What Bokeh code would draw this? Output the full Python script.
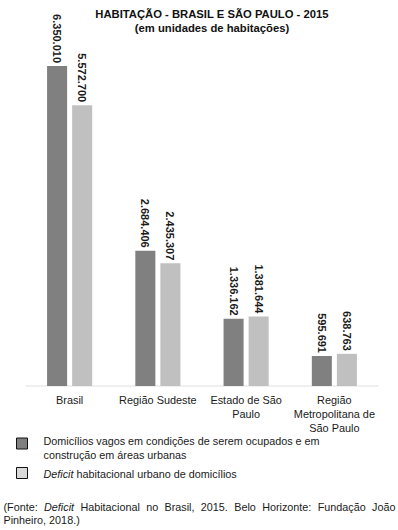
import math
from bokeh.plotting import figure
from bokeh.models import Range1d
from bokeh.core.properties import value
from bokeh.embed import file_html
from bokeh.resources import INLINE

categories = ["Brasil", "Região Sudeste", "Estado de São\nPaulo", "Região\nMetropolitana de\nSão Paulo"]
vagos = [6350010, 2684406, 1336162, 595691]
deficit = [5572700, 2435307, 1381644, 638763]
series_names = ["Domicílios vagos em condições de serem ocupados e em\nconstrução em áreas urbanas",
                "habitacional urbano de domicílios"]
title_lines = ["HABITAÇÃO - BRASIL E SÃO PAULO - 2015", "(em unidades de habitações)"]
source_words = ["(Fonte:", "Deficit", "Habitacional", "no", "Brasil,", "2015.", "Belo",
                "Horizonte:", "Fundação", "João"]
source_line2 = "Pinheiro, 2018.)"

FONT = "Liberation Sans"
DARK = "#808080"
LIGHT = "#c0c0c0"
TXT = "#1a1a1a"
FS = 10.8

# approximate Arial advance widths (1/1000 em) to justify the source line
AW = {" ": 278, "(": 333, ")": 333, ":": 278, ",": 278, ".": 278, "F": 611, "D": 722, "H": 722,
      "B": 667, "J": 500, "P": 667, "f": 278, "i": 222, "l": 222, "t": 278, "r": 333, "c": 500,
      "s": 500, "z": 500, "ç": 500, "o": 556, "n": 556, "e": 556, "a": 556, "b": 556, "u": 556,
      "d": 556, "ã": 556, "h": 556}
def text_w(s, fs):
    return sum(AW.get(ch, 556) for ch in s) * fs / 1000.0

W, H = 398, 530
k = 50.39e-6  # px per unit
base_y = 385.5  # baseline, px from top
cat_px = 88.25
p = figure(width=W, height=H, output_backend="svg", toolbar_location=None,
           x_axis_type=None, y_axis_type=None, min_border=0,
           x_range=Range1d(-25 / cat_px, 4 + (W - 378) / cat_px),
           y_range=Range1d(-(H - base_y) / k, base_y / k))
p.outline_line_color = None
p.grid.visible = False
p.background_fill_color = "white"
p.border_fill_color = "white"
p.extra_x_ranges = {"px": Range1d(0, W)}
p.extra_y_ranges = {"py": Range1d(H, 0)}

# baseline
p.segment(x0=[25], x1=[378], y0=[base_y], y1=[base_y], x_range_name="px", y_range_name="py",
          line_color="#e0e0e0", line_width=1)

idx = list(range(len(categories)))
off = 0.142
bw = 0.227
xd = [i + 0.5 - off for i in idx]
xl = [i + 0.5 + off for i in idx]
p.vbar(x=xd, top=vagos, bottom=0, width=bw, fill_color=DARK, line_color=None)
p.vbar(x=xl, top=deficit, bottom=0, width=bw, fill_color=LIGHT, line_color=None)

fmt = lambda v: f"{v:,}".replace(",", ".")
for xs, vals in ((xd, vagos), (xl, deficit)):
    p.text(x=xs, y=vals, text=[fmt(v) for v in vals], angle=-math.pi / 2,
           text_align="right", text_baseline="middle", y_offset=-3,
           text_font=value(FONT), text_font_style="bold", text_font_size="11px", text_color=TXT)

# category labels
p.text(x=[i + 0.5 for i in idx], y=[393] * 4, text=categories, y_range_name="py",
       text_align="center", text_baseline="top", text_font=value(FONT), text_font_size="10.9px",
       text_line_height=1.18, text_color=TXT)

# title
p.text(x=[211.5, 211.5], y=[13, 27], text=title_lines, x_range_name="px", y_range_name="py",
       text_align="center", text_baseline="middle", text_font=value(FONT),
       text_font_style="bold", text_font_size="11.25px", text_color="#111111")

# legend
p.rect(x=[21.5, 21.5], y=[443, 472.5], width=11, height=11, x_range_name="px", y_range_name="py",
       fill_color=[DARK, "#d9d9d9"], line_color="#111111", line_width=1)
p.text(x=[43], y=[447.5], text=[series_names[0]], x_range_name="px", y_range_name="py",
       text_align="left", text_baseline="middle", text_font=value(FONT), text_font_size=f"{FS}px",
       text_line_height=1.15, text_color=TXT)
p.text(x=[43], y=[473.5], text=["Deficit"], x_range_name="px", y_range_name="py",
       text_align="left", text_baseline="middle", text_font=value(FONT), text_font_size=f"{FS}px",
       text_font_style="italic", text_color=TXT)
p.text(x=[43 + text_w("Deficit ", FS)], y=[473.5], text=[series_names[1]], x_range_name="px",
       y_range_name="py", text_align="left", text_baseline="middle", text_font=value(FONT),
       text_font_size=f"{FS}px", text_color=TXT)

# source (justified line, word by word)
left, right = 3, 395
widths = [text_w(w, FS) for w in source_words]
gap = (right - left - sum(widths)) / (len(source_words) - 1)
xpos = []
cur = left
for w in widths:
    xpos.append(cur)
    cur += w + gap
styles = ["normal", "italic"] + ["normal"] * 8
for x, w, st in zip(xpos, source_words, styles):
    p.text(x=[x], y=[506.5], text=[w], x_range_name="px", y_range_name="py",
           text_align="left", text_baseline="middle", text_font=value(FONT), text_font_size=f"{FS}px",
           text_font_style=st, text_color=TXT)
p.text(x=[left], y=[519.5], text=[source_line2], x_range_name="px", y_range_name="py",
       text_align="left", text_baseline="middle", text_font=value(FONT), text_font_size=f"{FS}px",
       text_color=TXT)

open("out.html", "w").write(file_html(p, INLINE))
